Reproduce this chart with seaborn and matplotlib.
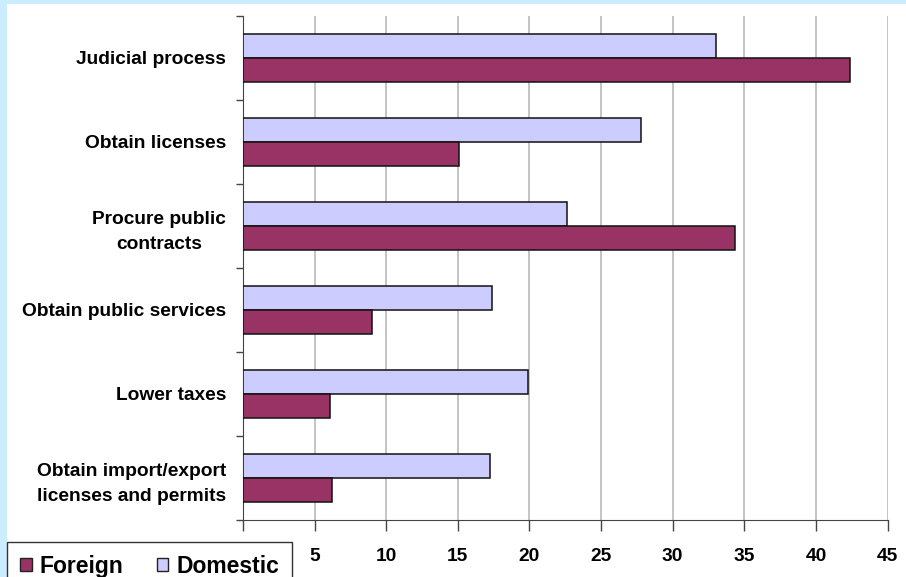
import matplotlib
matplotlib.use("Agg")
import matplotlib.pyplot as plt
import matplotlib.patches as mpatches
import seaborn as sns
import pandas as pd

categories = ["Judicial process", "Obtain licenses", "Procure public\ncontracts",
              "Obtain public services", "Lower taxes",
              "Obtain import/export\nlicenses and permits"]
domestic = [33.0, 27.8, 22.6, 17.4, 19.9, 17.25]
foreign = [42.4, 15.1, 34.35, 9.0, 6.05, 6.2]
x_ticks = [0, 5, 10, 15, 20, 25, 30, 35, 40, 45]
x_labels = ["", "5", "10", "15", "20", "25", "30", "35", "40", "45"]

df = pd.DataFrame({
    "category": categories * 2,
    "value": domestic + foreign,
    "group": ["Domestic"] * len(categories) + ["Foreign"] * len(categories),
})
colors = {"Domestic": "#CCCCFF", "Foreign": "#993366"}

sns.set_style("white")
plt.rcParams["font.family"] = ["Liberation Sans", "DejaVu Sans"]
plt.rcParams["text.color"] = "black"
fs = 13.8
fs_leg = 16.5

fig = plt.figure(figsize=(9.06, 5.77), dpi=100, facecolor="#CCECFF")
bg = mpatches.Rectangle((7 / 906, 0), 1, 573 / 577, transform=fig.transFigure,
                        facecolor="white", edgecolor="none", zorder=-10)
fig.add_artist(bg)
ax = fig.add_axes([242.9 / 906, 57 / 577, (887.5 - 242.9) / 906, (520 - 15.7) / 577])
ax.set_facecolor("white")

sns.barplot(data=df, y="category", x="value", hue="group", order=categories,
            hue_order=["Domestic", "Foreign"], palette=colors, saturation=1, width=0.57,
            edgecolor="#111111", linewidth=1.1, orient="h", ax=ax, legend=False, zorder=3)

ax.set_xlim(0, 45)
ax.set_ylim(len(categories) - 0.5, -0.5)
ax.set_xticks(x_ticks)
ax.set_xticklabels(x_labels, fontsize=fs, fontweight="bold", color="black")
ax.xaxis.grid(True, color="#B4B4B4", linewidth=1.1, zorder=0)
ax.yaxis.grid(False)
ax.set_axisbelow(True)
ax.tick_params(axis="x", direction="out", length=8, width=1, color="#444444", pad=12, bottom=True)

ax.set_yticks(range(len(categories)))
ax.set_yticklabels(categories, fontsize=fs, fontweight="bold", multialignment="center",
                   linespacing=1.65, color="black")
ax.set_yticks([i - 0.5 for i in range(len(categories) + 1)], minor=True)
ax.tick_params(axis="y", which="major", length=0, pad=12)
ax.tick_params(axis="y", which="minor", direction="out", length=5, width=1, color="#444444", left=True)

ax.set_xlabel("")
ax.set_ylabel("")
for side in ["top", "right"]:
    ax.spines[side].set_visible(False)
ax.spines["left"].set_color("#444444")
ax.spines["bottom"].set_color("#444444")

handles = [mpatches.Patch(facecolor=colors["Foreign"], edgecolor="#222222", label="Foreign"),
           mpatches.Patch(facecolor=colors["Domestic"], edgecolor="#222222", label="Domestic")]
leg = fig.legend(handles=handles, loc="upper left", bbox_to_anchor=(7 / 906, 35 / 577),
                 ncol=2, frameon=True, fancybox=False, framealpha=1, edgecolor="#333333",
                 prop={"size": fs_leg, "weight": "bold"}, handlelength=0.52, handleheight=0.52,
                 handletextpad=0.35, columnspacing=1.45, borderpad=0.55, borderaxespad=0)
leg.get_frame().set_linewidth(1)
for t in leg.get_texts():
    t.set_color("black")

fig.savefig("out.png", dpi=100, facecolor=fig.get_facecolor())
